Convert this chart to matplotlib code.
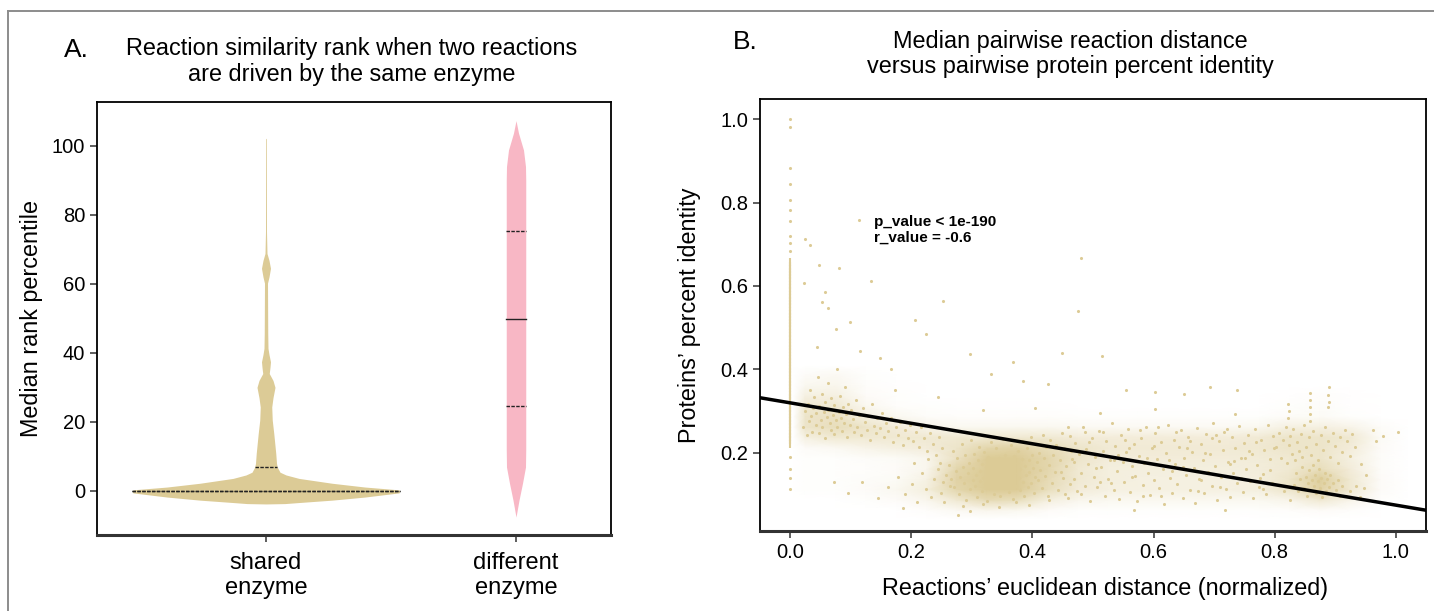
import numpy as np
import matplotlib.pyplot as plt
from matplotlib.lines import Line2D
from matplotlib.colors import LinearSegmentedColormap

plt.rcParams['font.family'] = ['Liberation Sans', 'DejaVu Sans']

TAN = '#dccb96'
PINK = '#f8b7c5'

# ---- panel A: violin outlines ----
categories = ['shared\nenzyme', 'different\nenzyme']

shared_y = [-3.8, -3.7, -3.4, -2.7, -1.8, -0.6, 0.0, 0.3, 1.1, 2.2, 3.6, 4.6, 5.4,
            6.9, 8.0, 10.9, 13.8, 16.7, 20.5, 24.3, 27.0, 30.0, 32.0, 34.0, 35.8,
            37.4, 39.5, 41.3, 45.7, 60.2, 62.0, 64.5, 66.8, 68.8, 75.0, 102.0, 102.2]
shared_half = [0.0, 0.075, 0.13, 0.264, 0.396, 0.532, 0.536, 0.53, 0.396, 0.264,
               0.132, 0.08, 0.056, 0.045, 0.042, 0.039, 0.035, 0.031, 0.025, 0.023,
               0.028, 0.036, 0.028, 0.013, 0.016, 0.018, 0.012, 0.008, 0.007, 0.006,
               0.012, 0.018, 0.012, 0.004, 0.002, 0.0015, 0.0]
different_y = [-7.6, -2.7, 2.2, 6.9, 12.0, 90.0, 94.0, 98.8, 103.7, 107.3]
different_half = [0.0, 0.012, 0.026, 0.038, 0.039, 0.039, 0.038, 0.03, 0.01, 0.0]

shared_quartiles = [0.0, 0.0, 6.9]
different_quartiles = [24.7, 49.7, 75.2]

# ---- panel B: scatter points ----
zero_col_y = [0.222, 0.231, 0.238, 0.246, 0.253, 0.262, 0.269, 0.277, 0.284, 0.293,
              0.301, 0.308, 0.316, 0.325, 0.332, 0.339, 0.347, 0.356, 0.363, 0.371,
              0.378, 0.386, 0.395, 0.402, 0.409, 0.417, 0.426, 0.433, 0.441, 0.448,
              0.457, 0.464, 0.472, 0.479, 0.487, 0.496, 0.503, 0.511, 0.518, 0.526,
              0.534, 0.541, 0.549, 0.557, 0.565, 0.572, 0.579, 0.588, 0.595, 0.603,
              0.611, 0.618, 0.626, 0.634, 0.641, 0.649, 0.657]
zero_sparse_y = [0.684, 0.703, 0.719, 0.756, 0.781, 0.807, 0.845, 0.882, 0.982, 1.0,
                 0.191, 0.162, 0.141, 0.113]

left_band = [
    (0.021, 0.262), (0.024, 0.301), (0.027, 0.243), (0.029, 0.318), (0.031, 0.276),
    (0.033, 0.352), (0.035, 0.289), (0.036, 0.251), (0.038, 0.307), (0.040, 0.334),
    (0.042, 0.268), (0.043, 0.295), (0.045, 0.381), (0.047, 0.247), (0.048, 0.312),
    (0.050, 0.279), (0.052, 0.342), (0.053, 0.261), (0.055, 0.298), (0.057, 0.323),
    (0.058, 0.236), (0.060, 0.286), (0.062, 0.367), (0.063, 0.304), (0.065, 0.272),
    (0.067, 0.256), (0.068, 0.331), (0.070, 0.291), (0.072, 0.315), (0.073, 0.245),
    (0.075, 0.278), (0.077, 0.402), (0.078, 0.262), (0.080, 0.299), (0.082, 0.336),
    (0.083, 0.284), (0.085, 0.253), (0.087, 0.311), (0.089, 0.271), (0.090, 0.358),
    (0.092, 0.294), (0.094, 0.238), (0.096, 0.318), (0.098, 0.266), (0.100, 0.302),
    (0.103, 0.281), (0.106, 0.249), (0.108, 0.327), (0.111, 0.263), (0.114, 0.292),
    (0.117, 0.242), (0.120, 0.308), (0.123, 0.274), (0.126, 0.256), (0.129, 0.289),
    (0.132, 0.231), (0.135, 0.318), (0.138, 0.265), (0.141, 0.247), (0.144, 0.283),
    (0.148, 0.259), (0.151, 0.296), (0.155, 0.238), (0.158, 0.271), (0.162, 0.252),
    (0.166, 0.284), (0.170, 0.226), (0.174, 0.262), (0.178, 0.243), (0.182, 0.275),
    (0.186, 0.219), (0.190, 0.256), (0.194, 0.237), (0.198, 0.268), (0.203, 0.228),
    (0.207, 0.249), (0.212, 0.214), (0.216, 0.262), (0.221, 0.236), (0.226, 0.205),
    (0.231, 0.248), (0.236, 0.221), (0.241, 0.196), (0.246, 0.239), (0.251, 0.212),
    (0.118, 0.131), (0.145, 0.092), (0.162, 0.118), (0.178, 0.143), (0.189, 0.101),
    (0.201, 0.126), (0.209, 0.082), (0.217, 0.151), (0.224, 0.113), (0.232, 0.094),
    (0.238, 0.138), (0.244, 0.162), (0.249, 0.104), (0.254, 0.083), (0.258, 0.147),
    (0.263, 0.121)]

core_cluster = [
    (0.262, 0.172), (0.265, 0.138), (0.268, 0.205), (0.271, 0.119), (0.273, 0.156),
    (0.276, 0.188), (0.278, 0.102), (0.281, 0.143), (0.283, 0.221), (0.285, 0.167),
    (0.287, 0.128), (0.289, 0.195), (0.291, 0.087), (0.293, 0.151), (0.295, 0.176),
    (0.297, 0.113), (0.299, 0.232), (0.301, 0.136), (0.302, 0.163), (0.304, 0.198),
    (0.305, 0.121), (0.307, 0.148), (0.308, 0.094), (0.310, 0.182), (0.311, 0.214),
    (0.313, 0.132), (0.314, 0.157), (0.316, 0.109), (0.317, 0.174), (0.319, 0.141),
    (0.320, 0.203), (0.322, 0.125), (0.323, 0.166), (0.325, 0.086), (0.326, 0.191),
    (0.328, 0.149), (0.329, 0.117), (0.331, 0.226), (0.332, 0.158), (0.334, 0.134),
    (0.335, 0.179), (0.337, 0.102), (0.338, 0.163), (0.340, 0.211), (0.341, 0.143),
    (0.343, 0.124), (0.344, 0.187), (0.346, 0.152), (0.347, 0.096), (0.349, 0.171),
    (0.350, 0.138), (0.352, 0.234), (0.353, 0.116), (0.355, 0.196), (0.356, 0.159),
    (0.358, 0.128), (0.359, 0.181), (0.361, 0.107), (0.362, 0.147), (0.364, 0.218),
    (0.365, 0.169), (0.367, 0.132), (0.368, 0.089), (0.370, 0.192), (0.371, 0.153),
    (0.373, 0.121), (0.374, 0.176), (0.376, 0.205), (0.377, 0.139), (0.379, 0.112),
    (0.380, 0.162), (0.382, 0.228), (0.383, 0.185), (0.385, 0.131), (0.386, 0.097),
    (0.388, 0.168), (0.389, 0.146), (0.391, 0.212), (0.392, 0.119), (0.394, 0.183),
    (0.395, 0.155), (0.397, 0.239), (0.398, 0.127), (0.400, 0.196), (0.401, 0.164),
    (0.403, 0.104), (0.404, 0.142), (0.406, 0.221), (0.407, 0.178), (0.409, 0.134),
    (0.411, 0.201), (0.413, 0.158), (0.415, 0.117), (0.417, 0.243), (0.419, 0.187),
    (0.421, 0.145), (0.423, 0.214), (0.425, 0.098), (0.427, 0.172), (0.429, 0.231),
    (0.432, 0.129), (0.434, 0.196), (0.437, 0.155), (0.439, 0.218), (0.442, 0.111),
    (0.445, 0.184), (0.448, 0.247), (0.451, 0.139),
    (0.205, 0.175), (0.228, 0.186), (0.247, 0.176), (0.253, 0.131), (0.286, 0.074),
    (0.297, 0.062), (0.318, 0.077), (0.345, 0.071), (0.372, 0.082), (0.395, 0.075),
    (0.428, 0.088), (0.453, 0.101), (0.462, 0.125)]

mid_band = [
    (0.452, 0.213), (0.456, 0.168), (0.459, 0.092), (0.462, 0.241), (0.465, 0.186),
    (0.468, 0.137), (0.471, 0.224), (0.474, 0.109), (0.477, 0.197), (0.480, 0.152),
    (0.483, 0.263), (0.486, 0.121), (0.489, 0.209), (0.492, 0.174), (0.495, 0.086),
    (0.498, 0.236), (0.501, 0.143), (0.504, 0.191), (0.507, 0.118), (0.510, 0.252),
    (0.513, 0.166), (0.516, 0.205), (0.519, 0.097), (0.522, 0.229), (0.525, 0.138),
    (0.528, 0.184), (0.531, 0.271), (0.534, 0.112), (0.537, 0.216), (0.540, 0.157),
    (0.543, 0.089), (0.546, 0.243), (0.549, 0.178), (0.552, 0.131), (0.555, 0.202),
    (0.558, 0.258), (0.561, 0.106), (0.564, 0.169), (0.567, 0.221), (0.570, 0.145),
    (0.573, 0.084), (0.576, 0.193), (0.579, 0.237), (0.582, 0.124), (0.585, 0.176),
    (0.588, 0.262), (0.591, 0.151), (0.594, 0.099), (0.597, 0.211), (0.600, 0.134),
    (0.603, 0.247), (0.606, 0.186), (0.609, 0.117), (0.612, 0.226), (0.615, 0.161),
    (0.618, 0.078), (0.621, 0.199), (0.624, 0.268), (0.627, 0.141), (0.630, 0.104),
    (0.633, 0.232), (0.636, 0.173), (0.639, 0.126), (0.642, 0.214), (0.645, 0.254),
    (0.648, 0.093), (0.651, 0.188), (0.654, 0.147), (0.657, 0.239), (0.660, 0.112),
    (0.663, 0.203), (0.666, 0.165), (0.669, 0.081), (0.672, 0.259), (0.675, 0.137),
    (0.678, 0.221), (0.681, 0.184), (0.684, 0.103), (0.687, 0.246), (0.690, 0.155),
    (0.693, 0.197), (0.696, 0.121), (0.699, 0.272), (0.702, 0.168), (0.705, 0.087),
    (0.708, 0.228), (0.711, 0.142), (0.714, 0.206), (0.717, 0.251), (0.720, 0.114),
    (0.723, 0.179), (0.726, 0.095), (0.729, 0.238), (0.732, 0.153), (0.735, 0.212),
    (0.738, 0.128), (0.741, 0.264), (0.744, 0.189), (0.747, 0.106), (0.750, 0.223),
    (0.753, 0.161), (0.756, 0.244), (0.759, 0.133), (0.762, 0.198), (0.765, 0.091),
    (0.768, 0.257), (0.771, 0.172), (0.774, 0.118), (0.777, 0.231), (0.780, 0.149),
    (0.783, 0.208), (0.786, 0.102), (0.789, 0.266), (0.792, 0.185), (0.795, 0.127),
    (0.798, 0.241),
    (0.447, 0.154), (0.458, 0.262), (0.469, 0.178), (0.481, 0.101), (0.493, 0.227),
    (0.505, 0.164), (0.517, 0.249), (0.529, 0.128), (0.541, 0.196), (0.553, 0.231),
    (0.565, 0.142), (0.577, 0.254), (0.589, 0.188), (0.601, 0.217), (0.613, 0.097),
    (0.625, 0.183), (0.637, 0.249), (0.649, 0.166), (0.661, 0.229), (0.673, 0.108),
    (0.685, 0.201), (0.697, 0.236), (0.709, 0.119), (0.721, 0.258), (0.733, 0.181),
    (0.745, 0.139), (0.757, 0.205), (0.769, 0.226), (0.781, 0.113), (0.793, 0.158),
    (0.463, 0.205), (0.487, 0.249), (0.511, 0.131), (0.535, 0.182), (0.559, 0.211),
    (0.583, 0.096), (0.607, 0.262), (0.631, 0.156), (0.655, 0.212), (0.679, 0.135),
    (0.703, 0.244), (0.727, 0.173), (0.751, 0.188), (0.775, 0.139), (0.799, 0.212)]

right_cluster = [
    (0.832, 0.124), (0.836, 0.151), (0.839, 0.108), (0.842, 0.137), (0.845, 0.166),
    (0.848, 0.116), (0.851, 0.143), (0.853, 0.098), (0.855, 0.129), (0.857, 0.158),
    (0.859, 0.112), (0.861, 0.135), (0.863, 0.171), (0.865, 0.121), (0.867, 0.147),
    (0.869, 0.103), (0.871, 0.132), (0.873, 0.162), (0.875, 0.117), (0.877, 0.141),
    (0.879, 0.094), (0.881, 0.127), (0.883, 0.153), (0.885, 0.109), (0.887, 0.138),
    (0.889, 0.119), (0.891, 0.146), (0.894, 0.101), (0.897, 0.128), (0.901, 0.112),
    (0.904, 0.136), (0.908, 0.097), (0.912, 0.121),
    (0.803, 0.214), (0.807, 0.248), (0.811, 0.187), (0.814, 0.232), (0.818, 0.263),
    (0.821, 0.176), (0.823, 0.219), (0.826, 0.241), (0.828, 0.198), (0.831, 0.257),
    (0.834, 0.183), (0.837, 0.226), (0.840, 0.204), (0.843, 0.246), (0.846, 0.191),
    (0.849, 0.268), (0.852, 0.215), (0.856, 0.238), (0.860, 0.196), (0.864, 0.252),
    (0.868, 0.221), (0.872, 0.184), (0.876, 0.243), (0.880, 0.207), (0.884, 0.262),
    (0.888, 0.229), (0.892, 0.191), (0.896, 0.248), (0.900, 0.216), (0.904, 0.176),
    (0.908, 0.239), (0.912, 0.203), (0.916, 0.254), (0.920, 0.228), (0.924, 0.192),
    (0.928, 0.246), (0.932, 0.214),
    (0.822, 0.284), (0.823, 0.301), (0.822, 0.318), (0.858, 0.276), (0.859, 0.293),
    (0.858, 0.311), (0.858, 0.327), (0.859, 0.344), (0.888, 0.309), (0.889, 0.322),
    (0.888, 0.338), (0.889, 0.357),
    (0.815, 0.109), (0.826, 0.088), (0.918, 0.097), (0.925, 0.108), (0.934, 0.121),
    (0.941, 0.094), (0.948, 0.116), (0.955, 0.087), (0.962, 0.254), (0.968, 0.228),
    (0.979, 0.241), (1.003, 0.250), (0.942, 0.173), (0.951, 0.146)]

outliers = [
    (0.048, 0.651), (0.058, 0.585), (0.062, 0.548), (0.053, 0.562), (0.081, 0.643),
    (0.098, 0.513), (0.133, 0.611), (0.075, 0.497), (0.044, 0.455), (0.115, 0.445),
    (0.148, 0.428), (0.167, 0.402), (0.206, 0.518), (0.224, 0.486), (0.252, 0.563),
    (0.297, 0.437), (0.331, 0.389), (0.368, 0.418), (0.384, 0.372), (0.426, 0.366),
    (0.448, 0.439), (0.476, 0.541), (0.481, 0.666), (0.515, 0.432), (0.555, 0.352),
    (0.603, 0.347), (0.651, 0.342), (0.694, 0.358), (0.738, 0.351), (0.025, 0.712),
    (0.032, 0.698), (0.113, 0.757), (0.022, 0.606), (0.173, 0.351), (0.244, 0.334),
    (0.318, 0.302), (0.404, 0.308), (0.512, 0.296), (0.602, 0.305), (0.734, 0.294),
    (0.186, 0.069), (0.277, 0.052), (0.567, 0.063), (0.718, 0.064), (0.095, 0.104),
    (0.072, 0.131)]

# how crowded the point cloud looks (0 = empty, 1 = solid), read by eye on a
# 0.05 x 0.025 grid of distance x identity (outer rows/columns are empty)
density_x = [0.005, 0.025, 0.075, 0.125, 0.175, 0.225, 0.275, 0.325, 0.375, 0.425,
             0.475, 0.525, 0.575, 0.625, 0.675, 0.725, 0.775, 0.825, 0.875, 0.925,
             0.975, 1.02]
density_y = [0.04, 0.0625, 0.0875, 0.1125, 0.1375, 0.1625, 0.1875, 0.2125, 0.2375,
             0.2625, 0.2875, 0.3125, 0.3375, 0.3625, 0.3875, 0.41]
density = [
    [0, 0.00, 0.00, 0.00, 0.00, 0.00, 0.00, 0.00, 0.00, 0.00, 0.00, 0.00, 0.00, 0.00, 0.00, 0.00, 0.00, 0.00, 0.00, 0.00, 0.00, 0],
    [0, 0.00, 0.00, 0.00, 0.00, 0.03, 0.08, 0.12, 0.10, 0.05, 0.02, 0.02, 0.02, 0.02, 0.02, 0.02, 0.02, 0.03, 0.05, 0.03, 0.00, 0],
    [0, 0.00, 0.00, 0.02, 0.05, 0.12, 0.30, 0.50, 0.45, 0.22, 0.12, 0.10, 0.10, 0.10, 0.10, 0.10, 0.10, 0.15, 0.30, 0.15, 0.02, 0],
    [0, 0.02, 0.02, 0.05, 0.10, 0.22, 0.55, 0.85, 0.80, 0.45, 0.25, 0.20, 0.20, 0.20, 0.20, 0.20, 0.22, 0.35, 0.60, 0.30, 0.05, 0],
    [0, 0.02, 0.02, 0.04, 0.06, 0.18, 0.60, 0.95, 0.90, 0.50, 0.30, 0.22, 0.20, 0.20, 0.20, 0.20, 0.22, 0.35, 0.65, 0.30, 0.05, 0],
    [0, 0.02, 0.02, 0.03, 0.05, 0.12, 0.55, 0.95, 0.95, 0.55, 0.30, 0.22, 0.22, 0.22, 0.22, 0.22, 0.24, 0.30, 0.45, 0.25, 0.04, 0],
    [0, 0.02, 0.02, 0.04, 0.06, 0.12, 0.40, 0.80, 0.85, 0.55, 0.35, 0.25, 0.25, 0.25, 0.25, 0.25, 0.26, 0.30, 0.35, 0.20, 0.04, 0],
    [0, 0.05, 0.08, 0.15, 0.20, 0.25, 0.35, 0.55, 0.60, 0.45, 0.35, 0.28, 0.28, 0.28, 0.28, 0.28, 0.30, 0.35, 0.35, 0.25, 0.05, 0],
    [0, 0.20, 0.30, 0.30, 0.30, 0.30, 0.30, 0.30, 0.30, 0.30, 0.25, 0.25, 0.25, 0.25, 0.25, 0.25, 0.28, 0.35, 0.35, 0.30, 0.06, 0],
    [0, 0.35, 0.45, 0.35, 0.25, 0.15, 0.10, 0.10, 0.10, 0.10, 0.08, 0.08, 0.08, 0.08, 0.08, 0.08, 0.10, 0.20, 0.20, 0.15, 0.04, 0],
    [0, 0.35, 0.40, 0.20, 0.10, 0.04, 0.03, 0.03, 0.03, 0.03, 0.02, 0.02, 0.02, 0.02, 0.02, 0.02, 0.02, 0.05, 0.06, 0.02, 0.00, 0],
    [0, 0.30, 0.30, 0.10, 0.03, 0.02, 0.01, 0.01, 0.01, 0.01, 0.00, 0.00, 0.00, 0.00, 0.00, 0.00, 0.00, 0.02, 0.04, 0.01, 0.00, 0],
    [0, 0.20, 0.20, 0.05, 0.02, 0.00, 0.00, 0.00, 0.00, 0.00, 0.00, 0.00, 0.00, 0.00, 0.00, 0.00, 0.00, 0.01, 0.03, 0.01, 0.00, 0],
    [0, 0.10, 0.12, 0.03, 0.01, 0.00, 0.00, 0.00, 0.00, 0.00, 0.00, 0.00, 0.00, 0.00, 0.00, 0.00, 0.00, 0.00, 0.00, 0.00, 0.00, 0],
    [0, 0.05, 0.08, 0.02, 0.00, 0.00, 0.00, 0.00, 0.00, 0.00, 0.00, 0.00, 0.00, 0.00, 0.00, 0.00, 0.00, 0.00, 0.00, 0.00, 0.00, 0],
    [0, 0.00, 0.00, 0.00, 0.00, 0.00, 0.00, 0.00, 0.00, 0.00, 0.00, 0.00, 0.00, 0.00, 0.00, 0.00, 0.00, 0.00, 0.00, 0.00, 0.00, 0]]

fit_intercept = 0.320
fit_slope = -0.245

fig = plt.figure(figsize=(14.34, 6.11), dpi=100)

# thin frame round the figure (top and left edges visible)
fig.add_artist(Line2D([8 / 1434, 1.0], [1 - 11 / 611, 1 - 11 / 611],
                      transform=fig.transFigure, color='#8c8c8c', lw=1.4))
fig.add_artist(Line2D([8 / 1434, 8 / 1434], [0.0, 1 - 11 / 611],
                      transform=fig.transFigure, color='#8c8c8c', lw=1.4))


def style_axes(ax):
    for side in ['top', 'left', 'right']:
        ax.spines[side].set_linewidth(1.3)
        ax.spines[side].set_color('black')
    ax.spines['bottom'].set_linewidth(2.2)
    ax.spines['bottom'].set_color('#333333')
    ax.tick_params(length=5, width=1.1, color='#333333', labelsize=14.5)


# ---------------- panel A ----------------
axA = fig.add_axes([97 / 1434, 1 - 535 / 611, 514 / 1434, 433 / 611])
violins = [(shared_y, shared_half, shared_quartiles, TAN),
           (different_y, different_half, different_quartiles, PINK)]
for pos, (vy, vh, vq, col) in enumerate(violins):
    vy = np.array(vy)
    vh = np.array(vh)
    axA.fill_betweenx(vy, pos - vh, pos + vh, color=col, lw=0, zorder=2)
    for i, q in enumerate(vq):
        hw = np.interp(q, vy, vh)
        ls = '-' if (i == 1 and pos == 1) else (0, (2.5, 1))
        axA.plot([pos - hw, pos + hw], [q, q], color='#222222', lw=1.0,
                 ls=ls, zorder=3)

axA.set_xlim(-0.676, 1.38)
axA.set_ylim(-12.8, 112.7)
axA.set_yticks(np.arange(0, 101, 20))
style_axes(axA)
axA.set_xticks([0, 1])
axA.set_xticklabels(categories, linespacing=1.2, fontsize=17)
axA.tick_params(axis='x', pad=7)
axA.set_ylabel('Median rank percentile', fontsize=16.8)
axA.yaxis.set_label_coords(-0.105, 0.5)

fig.text(352 / 1434, 1 - 61.5 / 611,
         'Reaction similarity rank when two reactions\nare driven by the same enzyme',
         ha='center', va='center', fontsize=16.9, linespacing=1.15)
fig.text(76 / 1434, 1 - 50 / 611, 'A.', ha='center', va='center', fontsize=19)

# ---------------- panel B ----------------
axB = fig.add_axes([760 / 1434, 1 - 531 / 611, 666 / 1434, 432 / 611])
fog = LinearSegmentedColormap.from_list('fog', ['white', TAN])
gx, gy = np.meshgrid(density_x, density_y)
axB.pcolormesh(gx, gy, np.array(density), cmap=fog, vmin=0, vmax=0.7,
               shading='gouraud', zorder=1)
cloud = np.array(left_band + core_cluster + mid_band + right_cluster + outliers)
axB.scatter(cloud[:, 0], cloud[:, 1], s=5, color=TAN, linewidths=0, zorder=2)
axB.scatter(np.zeros(len(zero_col_y)), zero_col_y, marker='|', s=30,
            color=TAN, linewidths=1.5, zorder=2)
axB.scatter(np.zeros(len(zero_sparse_y)), zero_sparse_y, s=5, color=TAN,
            linewidths=0, zorder=2)
axB.axline((0, fit_intercept), slope=fit_slope, color='black', lw=2.5, zorder=3)

axB.text(0.139, 0.735, 'p_value < 1e-190\nr_value = -0.6', fontsize=11,
         fontweight='bold', ha='left', va='center', linespacing=1.15)

axB.set_xlim(-0.05, 1.05)
axB.set_ylim(0.013, 1.048)
axB.set_xticks(np.arange(0, 1.01, 0.2))
axB.set_yticks(np.arange(0.2, 1.01, 0.2))
style_axes(axB)
axB.set_xlabel('Reactions\u2019 euclidean distance (normalized)', fontsize=16.8)
axB.xaxis.set_label_coords(0.518, -0.106)
axB.set_ylabel('Proteins\u2019 percent identity', fontsize=16.8)
axB.yaxis.set_label_coords(-0.0886, 0.5)

fig.text(1070 / 1434, 1 - 54 / 611,
         'Median pairwise reaction distance\nversus pairwise protein percent identity',
         ha='center', va='center', fontsize=16.9, linespacing=1.15)
fig.text(745 / 1434, 1 - 42 / 611, 'B.', ha='center', va='center', fontsize=19)

fig.savefig('out.png', dpi=100)
